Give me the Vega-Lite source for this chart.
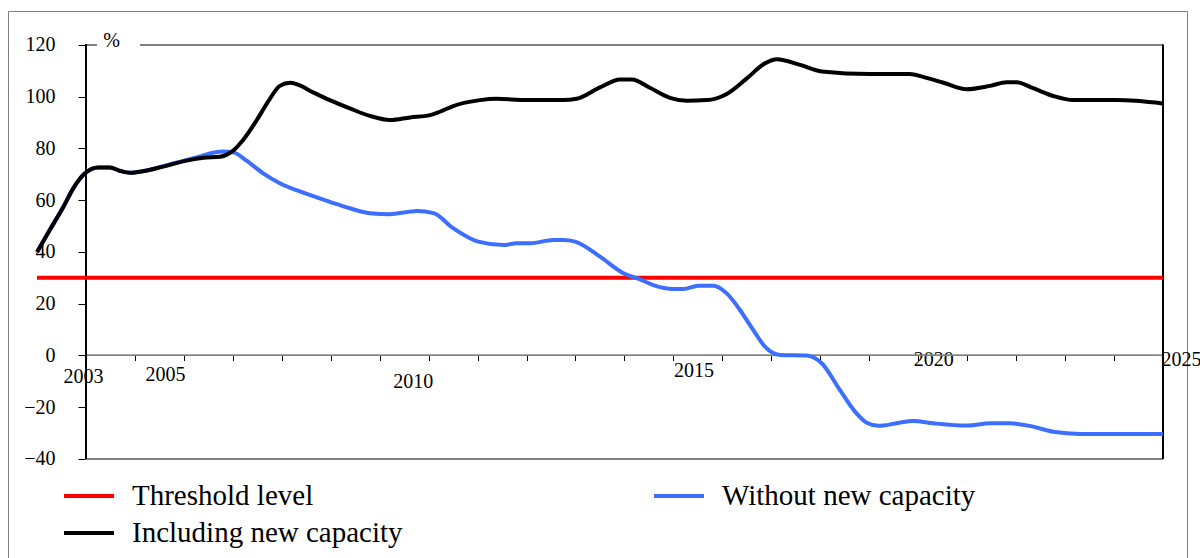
{
  "$schema": "https://vega.github.io/schema/vega-lite/v6.json",
  "width": 1179,
  "height": 560,
  "autosize": "none",
  "padding": {"left": 8, "top": 11, "right": 13, "bottom": 0},
  "background": "white",
  "config": {"view": {"stroke": "#808080", "strokeWidth": 1}, "font": "Liberation Serif"},
  "data": {"values": [
    {"series": "Threshold level", "year": 2002, "value": 30},
    {"series": "Threshold level", "year": 2025, "value": 30},
    {"series": "Including new capacity", "year": 2002.0, "value": 40.0},
    {"series": "Including new capacity", "year": 2002.26, "value": 48.5},
    {"series": "Including new capacity", "year": 2002.54, "value": 57.5},
    {"series": "Including new capacity", "year": 2002.74, "value": 64.6},
    {"series": "Including new capacity", "year": 2002.98, "value": 70.4},
    {"series": "Including new capacity", "year": 2003.25, "value": 72.7},
    {"series": "Including new capacity", "year": 2003.49, "value": 72.7},
    {"series": "Including new capacity", "year": 2003.69, "value": 71.4},
    {"series": "Including new capacity", "year": 2003.9, "value": 70.6},
    {"series": "Including new capacity", "year": 2004.17, "value": 71.2},
    {"series": "Including new capacity", "year": 2004.58, "value": 73.0},
    {"series": "Including new capacity", "year": 2005.06, "value": 75.3},
    {"series": "Including new capacity", "year": 2005.4, "value": 76.4},
    {"series": "Including new capacity", "year": 2005.74, "value": 76.8},
    {"series": "Including new capacity", "year": 2005.98, "value": 78.8},
    {"series": "Including new capacity", "year": 2006.21, "value": 83.3},
    {"series": "Including new capacity", "year": 2006.49, "value": 91.0},
    {"series": "Including new capacity", "year": 2006.72, "value": 98.1},
    {"series": "Including new capacity", "year": 2006.96, "value": 104.2},
    {"series": "Including new capacity", "year": 2007.17, "value": 105.4},
    {"series": "Including new capacity", "year": 2007.3, "value": 104.9},
    {"series": "Including new capacity", "year": 2007.64, "value": 101.7},
    {"series": "Including new capacity", "year": 2007.98, "value": 98.7},
    {"series": "Including new capacity", "year": 2008.39, "value": 95.5},
    {"series": "Including new capacity", "year": 2008.8, "value": 92.6},
    {"series": "Including new capacity", "year": 2009.21, "value": 91.0},
    {"series": "Including new capacity", "year": 2009.62, "value": 92.0},
    {"series": "Including new capacity", "year": 2010.03, "value": 92.9},
    {"series": "Including new capacity", "year": 2010.23, "value": 94.2},
    {"series": "Including new capacity", "year": 2010.5, "value": 96.4},
    {"series": "Including new capacity", "year": 2011.05, "value": 98.7},
    {"series": "Including new capacity", "year": 2011.39, "value": 99.2},
    {"series": "Including new capacity", "year": 2012.0, "value": 98.7},
    {"series": "Including new capacity", "year": 2012.75, "value": 98.7},
    {"series": "Including new capacity", "year": 2013.02, "value": 99.2},
    {"series": "Including new capacity", "year": 2013.5, "value": 103.6},
    {"series": "Including new capacity", "year": 2013.91, "value": 106.7},
    {"series": "Including new capacity", "year": 2014.15, "value": 106.7},
    {"series": "Including new capacity", "year": 2014.52, "value": 103.5},
    {"series": "Including new capacity", "year": 2014.93, "value": 99.6},
    {"series": "Including new capacity", "year": 2015.27, "value": 98.5},
    {"series": "Including new capacity", "year": 2015.68, "value": 98.7},
    {"series": "Including new capacity", "year": 2016.09, "value": 101.1},
    {"series": "Including new capacity", "year": 2016.5, "value": 107.1},
    {"series": "Including new capacity", "year": 2016.87, "value": 112.9},
    {"series": "Including new capacity", "year": 2017.11, "value": 114.5},
    {"series": "Including new capacity", "year": 2017.59, "value": 112.3},
    {"series": "Including new capacity", "year": 2018.03, "value": 109.8},
    {"series": "Including new capacity", "year": 2019.02, "value": 108.8},
    {"series": "Including new capacity", "year": 2019.83, "value": 108.8},
    {"series": "Including new capacity", "year": 2020.1, "value": 107.7},
    {"series": "Including new capacity", "year": 2020.52, "value": 105.4},
    {"series": "Including new capacity", "year": 2020.99, "value": 102.9},
    {"series": "Including new capacity", "year": 2021.47, "value": 104.2},
    {"series": "Including new capacity", "year": 2021.81, "value": 105.6},
    {"series": "Including new capacity", "year": 2022.01, "value": 105.6},
    {"series": "Including new capacity", "year": 2022.35, "value": 103.3},
    {"series": "Including new capacity", "year": 2022.76, "value": 100.3},
    {"series": "Including new capacity", "year": 2023.17, "value": 98.7},
    {"series": "Including new capacity", "year": 2024.06, "value": 98.7},
    {"series": "Including new capacity", "year": 2025.0, "value": 97.4},
    {"series": "Without new capacity", "year": 2002.0, "value": 40.0},
    {"series": "Without new capacity", "year": 2002.26, "value": 48.5},
    {"series": "Without new capacity", "year": 2002.54, "value": 57.5},
    {"series": "Without new capacity", "year": 2002.74, "value": 64.6},
    {"series": "Without new capacity", "year": 2002.98, "value": 70.4},
    {"series": "Without new capacity", "year": 2003.25, "value": 72.7},
    {"series": "Without new capacity", "year": 2003.49, "value": 72.7},
    {"series": "Without new capacity", "year": 2003.69, "value": 71.4},
    {"series": "Without new capacity", "year": 2003.9, "value": 70.6},
    {"series": "Without new capacity", "year": 2004.17, "value": 71.3},
    {"series": "Without new capacity", "year": 2004.58, "value": 73.2},
    {"series": "Without new capacity", "year": 2005.06, "value": 75.6},
    {"series": "Without new capacity", "year": 2005.33, "value": 76.9},
    {"series": "Without new capacity", "year": 2005.53, "value": 78.1},
    {"series": "Without new capacity", "year": 2005.8, "value": 78.8},
    {"series": "Without new capacity", "year": 2006.01, "value": 78.5},
    {"series": "Without new capacity", "year": 2006.28, "value": 75.3},
    {"series": "Without new capacity", "year": 2006.62, "value": 70.4},
    {"series": "Without new capacity", "year": 2006.96, "value": 66.6},
    {"series": "Without new capacity", "year": 2007.44, "value": 62.9},
    {"series": "Without new capacity", "year": 2007.98, "value": 59.4},
    {"series": "Without new capacity", "year": 2008.39, "value": 56.9},
    {"series": "Without new capacity", "year": 2008.8, "value": 55.0},
    {"series": "Without new capacity", "year": 2009.21, "value": 54.6},
    {"series": "Without new capacity", "year": 2009.62, "value": 55.6},
    {"series": "Without new capacity", "year": 2009.76, "value": 55.8},
    {"series": "Without new capacity", "year": 2010.1, "value": 55.0},
    {"series": "Without new capacity", "year": 2010.5, "value": 49.2},
    {"series": "Without new capacity", "year": 2011.01, "value": 44.0},
    {"series": "Without new capacity", "year": 2011.53, "value": 42.7},
    {"series": "Without new capacity", "year": 2011.8, "value": 43.4},
    {"series": "Without new capacity", "year": 2012.07, "value": 43.4},
    {"series": "Without new capacity", "year": 2012.55, "value": 44.6},
    {"series": "Without new capacity", "year": 2012.75, "value": 44.6},
    {"series": "Without new capacity", "year": 2012.99, "value": 44.0},
    {"series": "Without new capacity", "year": 2013.5, "value": 38.2},
    {"series": "Without new capacity", "year": 2013.98, "value": 31.8},
    {"series": "Without new capacity", "year": 2014.32, "value": 29.4},
    {"series": "Without new capacity", "year": 2014.59, "value": 27.2},
    {"series": "Without new capacity", "year": 2015.0, "value": 25.7},
    {"series": "Without new capacity", "year": 2015.2, "value": 25.7},
    {"series": "Without new capacity", "year": 2015.51, "value": 27.0},
    {"series": "Without new capacity", "year": 2015.82, "value": 27.0},
    {"series": "Without new capacity", "year": 2016.09, "value": 24.0},
    {"series": "Without new capacity", "year": 2016.36, "value": 17.6},
    {"series": "Without new capacity", "year": 2016.63, "value": 9.9},
    {"series": "Without new capacity", "year": 2016.87, "value": 3.4},
    {"series": "Without new capacity", "year": 2017.18, "value": 0.2},
    {"series": "Without new capacity", "year": 2017.72, "value": 0.0},
    {"series": "Without new capacity", "year": 2018.03, "value": -3.0},
    {"series": "Without new capacity", "year": 2018.4, "value": -13.3},
    {"series": "Without new capacity", "year": 2018.71, "value": -21.7},
    {"series": "Without new capacity", "year": 2018.95, "value": -26.0},
    {"series": "Without new capacity", "year": 2019.19, "value": -27.2},
    {"series": "Without new capacity", "year": 2019.56, "value": -26.2},
    {"series": "Without new capacity", "year": 2019.9, "value": -25.3},
    {"series": "Without new capacity", "year": 2020.31, "value": -26.2},
    {"series": "Without new capacity", "year": 2020.99, "value": -27.1},
    {"series": "Without new capacity", "year": 2021.47, "value": -26.2},
    {"series": "Without new capacity", "year": 2021.88, "value": -26.2},
    {"series": "Without new capacity", "year": 2022.35, "value": -27.5},
    {"series": "Without new capacity", "year": 2022.76, "value": -29.5},
    {"series": "Without new capacity", "year": 2023.31, "value": -30.3},
    {"series": "Without new capacity", "year": 2024.88, "value": -30.3},
    {"series": "Without new capacity", "year": 2025.0, "value": -30.3}
  ]},
  "layer": [
    {
      "mark": {"type": "rule", "color": "#808080", "strokeWidth": 1},
      "encoding": {
        "x": {"datum": 2003, "type": "quantitative", "scale": {"domain": [2001.407, 2025.492], "nice": false, "zero": false}},
        "x2": {"datum": 2025},
        "y": {"datum": 0, "type": "quantitative", "scale": {"domain": [-83.29, 133.14], "nice": false, "zero": false}}
      }
    },
    {
      "mark": {"type": "rule", "color": "#808080", "strokeWidth": 1},
      "encoding": {
        "x": {"datum": 2003, "type": "quantitative", "scale": {"domain": [2001.407, 2025.492], "nice": false, "zero": false}},
        "x2": {"datum": 2025},
        "y": {"datum": -40, "type": "quantitative", "scale": {"domain": [-83.29, 133.14], "nice": false, "zero": false}}
      }
    },
    {
      "mark": {"type": "rule", "color": "#808080", "strokeWidth": 1},
      "encoding": {
        "x": {"datum": 2003, "type": "quantitative", "scale": {"domain": [2001.407, 2025.492], "nice": false, "zero": false}},
        "x2": {"datum": 2003.22},
        "y": {"datum": 120, "type": "quantitative", "scale": {"domain": [-83.29, 133.14], "nice": false, "zero": false}}
      }
    },
    {
      "mark": {"type": "rule", "color": "#808080", "strokeWidth": 1},
      "encoding": {
        "x": {"datum": 2004.12, "type": "quantitative", "scale": {"domain": [2001.407, 2025.492], "nice": false, "zero": false}},
        "x2": {"datum": 2025},
        "y": {"datum": 120, "type": "quantitative", "scale": {"domain": [-83.29, 133.14], "nice": false, "zero": false}}
      }
    },
    {
      "mark": {"type": "rule", "color": "black", "strokeWidth": 1},
      "encoding": {
        "x": {"datum": 2003, "type": "quantitative", "scale": {"domain": [2001.407, 2025.492], "nice": false, "zero": false}},
        "y": {"datum": -40, "type": "quantitative", "scale": {"domain": [-83.29, 133.14], "nice": false, "zero": false}},
        "y2": {"datum": 120}
      }
    },
    {
      "mark": {"type": "rule", "color": "black", "strokeWidth": 1},
      "encoding": {
        "x": {"datum": 2025, "type": "quantitative", "scale": {"domain": [2001.407, 2025.492], "nice": false, "zero": false}},
        "y": {"datum": -40, "type": "quantitative", "scale": {"domain": [-83.29, 133.14], "nice": false, "zero": false}},
        "y2": {"datum": 120}
      }
    },
    {
      "encoding": {
        "x": {
          "field": "year", "type": "quantitative",
          "scale": {"domain": [2001.407, 2025.492], "nice": false, "zero": false},
          "axis": {
            "orient": "bottom", "offset": -215.5, "title": null,
            "values": [2003,2004,2005,2006,2007,2008,2009,2010,2011,2012,2013,2014,2015,2016,2017,2018,2019,2020,2021,2022,2023,2024,2025],
            "domain": false, "grid": false, "tickSize": 5, "tickColor": "black", "tickWidth": 1,
            "labelExpr": "indexof([2003,2005,2010,2015,2020,2025], datum.value) >= 0 ? format(datum.value, 'd') : ''",
            "labelFont": "Liberation Serif", "labelFontSize": 20, "labelColor": "black",
            "labelAlign": "center", "labelBaseline": "top", "labelFlush": false, "labelOverlap": false,
            "labelOffset": {"condition": [
              {"test": "datum.value == 2003", "value": -3},
              {"test": "datum.value == 2005", "value": -19},
              {"test": "datum.value == 2010", "value": -16},
              {"test": "datum.value == 2015", "value": 20},
              {"test": "datum.value == 2020", "value": 15},
              {"test": "datum.value == 2025", "value": 18}
            ], "value": 0},
            "labelPadding": {"condition": [
              {"test": "datum.value == 2003", "value": 6},
              {"test": "datum.value == 2005", "value": 4},
              {"test": "datum.value == 2010", "value": 11},
              {"test": "datum.value == 2015", "value": 0},
              {"test": "datum.value == 2020", "value": -11},
              {"test": "datum.value == 2025", "value": -11}
            ], "value": 0}
          }
        },
        "y": {
          "field": "value", "type": "quantitative",
          "scale": {"domain": [-83.29, 133.14], "nice": false, "zero": false},
          "axis": {
            "orient": "left", "offset": -78,
            "values": [-40, -20, 0, 20, 40, 60, 80, 100, 120],
            "domain": false, "grid": false, "tickSize": 8, "tickColor": "black", "tickWidth": 1,
            "labelPadding": 23, "labelFont": "Liberation Serif", "labelFontSize": 20, "labelColor": "black",
            "title": "%", "titleAngle": 0, "titleX": 25, "titleY": 29, "titleAlign": "center", "titleBaseline": "middle",
            "titleFont": "Liberation Serif", "titleFontSize": 20, "titleFontWeight": "normal", "titleColor": "black"
          }
        },
        "color": {
          "field": "series", "type": "nominal",
          "scale": {"domain": ["Threshold level", "Including new capacity", "Without new capacity"], "range": ["#FF0000", "#000000", "#3C6EFF"]},
          "legend": {
            "orient": "none", "legendX": 59, "legendY": 463, "columns": 2, "columnPadding": 243, "rowPadding": 0,
            "title": null, "padding": 0, "symbolType": "M-1.25,0H1.25", "symbolSize": 1600, "symbolStrokeWidth": 4,
            "labelFont": "Liberation Serif", "labelFontSize": 29, "labelColor": "black", "labelOffset": 21, "labelLimit": 600
          }
        }
      },
      "layer": [
        {"transform": [{"filter": "datum.series == 'Threshold level'"}], "mark": {"type": "line", "strokeWidth": 4}},
        {"transform": [{"filter": "datum.series == 'Without new capacity'"}], "mark": {"type": "line", "strokeWidth": 4, "interpolate": "monotone"}},
        {"transform": [{"filter": "datum.series == 'Including new capacity'"}], "mark": {"type": "line", "strokeWidth": 4, "interpolate": "monotone"}}
      ]
    }
  ]
}
